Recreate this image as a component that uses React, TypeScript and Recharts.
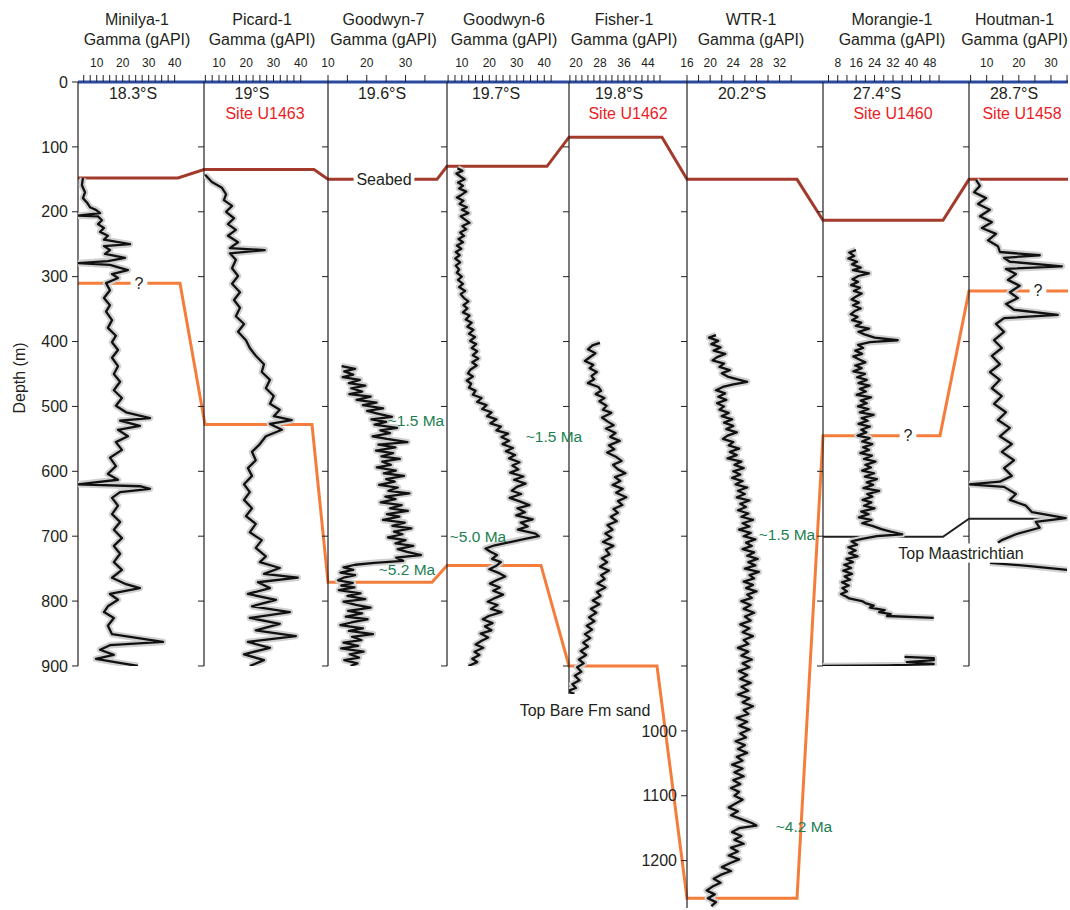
import { Scatter, ScatterChart, XAxis, YAxis } from 'recharts'

const FONT = 'Arial, "Liberation Sans", Helvetica, sans-serif'
const INK = '#231f20'
const BLUE = '#2a4a9f'
const BROWN = '#a23b2c'
const ORANGE = '#f47d3c'
const GREEN = '#1a8050'
const RED = '#ec1c24'

const TOP = 82 // y of 0 m
const MAX_DEPTH = 1273
const PX_PER_M = 826 / MAX_DEPTH

type Pair = [number, number] // [depth m, gamma gAPI]

// gamma logs
const MINILYA_1: Pair[] = [
  [148, 4.7], [159, 4.3], [170, 5.5], [179, 4.7], [186, 6.3], [193, 7.4], [197, 9.7], [202, 11.3],
  [206, 2.8], [207, 10.5], [213, 12.0], [219, 10.5], [225, 12.8], [231, 11.3], [237, 14.3], [243, 12.8],
  [250, 22.8], [253, 12.8], [259, 15.1], [265, 13.2], [271, 20.9], [276, 14.3], [279, 2.8], [282, 15.1],
  [290, 22.0], [296, 15.9], [302, 18.2], [310, 13.6], [321, 15.1], [333, 12.8], [344, 15.1], [354, 13.6],
  [367, 15.9], [379, 14.3], [391, 17.4], [401, 15.9], [413, 18.2], [425, 15.9], [438, 18.2], [450, 16.6],
  [462, 19.0], [475, 16.6], [487, 19.7], [499, 17.4], [509, 21.3], [518, 30.5], [522, 19.0], [530, 26.6],
  [536, 18.2], [546, 22.0], [555, 17.4], [567, 19.7], [579, 15.1], [592, 17.4], [604, 14.3], [613, 18.2],
  [620, 2.8], [623, 26.6], [627, 30.5], [632, 19.0], [641, 15.9], [653, 18.2], [666, 15.9], [678, 19.0],
  [690, 16.6], [703, 19.7], [715, 16.6], [727, 19.0], [740, 16.6], [752, 19.7], [764, 15.9], [774, 21.3],
  [780, 26.6], [789, 15.1], [798, 18.2], [808, 14.3], [817, 12.8], [826, 16.6], [838, 14.3], [851, 15.9],
  [863, 35.5], [868, 15.1], [875, 11.3], [883, 16.6], [889, 9.7], [895, 18.2], [900, 25.9],
]

const PICARD_1: Pair[] = [
  [143, 4.9], [154, 7.4], [163, 11.1], [173, 12.6], [182, 11.8], [191, 14.8], [200, 12.6], [210, 15.5],
  [219, 13.3], [228, 16.2], [237, 13.3], [247, 17.0], [256, 14.0], [259, 26.8], [264, 14.0], [274, 16.2],
  [287, 14.8], [299, 17.0], [311, 14.8], [324, 17.7], [336, 15.5], [348, 17.7], [361, 16.2], [373, 19.2],
  [385, 17.0], [398, 19.9], [410, 21.3], [422, 23.5], [435, 26.5], [447, 25.7], [459, 28.7], [472, 27.2],
  [484, 30.1], [496, 28.7], [505, 32.3], [515, 30.1], [521, 36.7], [527, 28.7], [536, 33.1], [546, 27.2],
  [558, 25.0], [570, 22.1], [583, 23.5], [595, 20.6], [607, 22.1], [620, 19.2], [632, 21.3], [644, 19.2],
  [657, 22.1], [669, 19.9], [681, 23.5], [694, 21.3], [706, 25.7], [718, 23.5], [731, 27.2], [740, 25.0],
  [749, 32.3], [758, 26.5], [764, 38.9], [771, 24.3], [780, 28.7], [789, 20.6], [798, 30.9], [808, 22.1],
  [817, 36.0], [826, 21.3], [835, 32.3], [845, 23.5], [854, 38.2], [863, 20.6], [872, 28.7], [882, 19.2],
  [891, 26.5], [900, 21.3],
]

const GOODWYN_7: Pair[] = [
  [438, 13.5], [442, 17.0], [446, 14.2], [451, 16.5], [455, 13.8], [459, 18.2], [464, 15.4], [468, 19.6],
  [472, 16.0], [477, 18.8], [481, 15.5], [485, 21.0], [490, 17.4], [494, 22.5], [498, 19.0], [503, 24.2],
  [507, 20.1], [511, 22.8], [516, 26.5], [520, 21.2], [524, 25.0], [528, 22.0], [533, 27.8], [537, 23.5],
  [541, 26.0], [546, 21.5], [550, 25.2], [555, 30.5], [559, 23.0], [563, 27.4], [568, 22.4], [572, 26.8],
  [577, 23.8], [581, 28.5], [585, 24.0], [590, 26.2], [594, 22.6], [599, 27.5], [603, 24.4], [607, 29.6],
  [612, 25.0], [616, 27.2], [621, 23.2], [625, 28.0], [630, 25.6], [634, 31.0], [639, 24.8], [643, 27.4],
  [648, 23.6], [652, 29.0], [657, 26.0], [661, 30.6], [666, 25.2], [670, 28.4], [675, 24.2], [679, 29.8],
  [684, 26.6], [688, 31.5], [693, 27.0], [697, 29.2], [702, 25.5], [706, 30.0], [711, 27.4], [715, 32.0],
  [720, 28.0], [724, 30.4], [729, 34.0], [733, 27.6], [738, 29.4], [741, 22.0], [744, 17.0], [748, 14.0],
  [752, 16.5], [756, 13.2], [760, 17.0], [764, 14.0], [768, 12.6], [772, 16.4], [776, 13.4], [779, 16.8],
  [783, 12.8], [788, 18.4], [792, 15.0], [797, 19.6], [801, 14.0], [806, 17.2], [810, 21.0], [815, 15.2],
  [819, 18.8], [824, 14.6], [828, 20.2], [833, 16.0], [837, 13.2], [842, 19.0], [846, 15.4], [851, 21.6],
  [855, 16.2], [860, 18.6], [864, 14.0], [869, 17.8], [873, 13.4], [878, 19.2], [882, 15.6], [887, 18.0],
  [891, 14.2], [896, 17.6], [900, 15.8],
]

const GOODWYN_6: Pair[] = [
  [133, 8.4], [137, 10.2], [141, 8.0], [146, 9.6], [150, 11.0], [155, 8.6], [160, 10.4], [164, 9.0],
  [169, 11.6], [174, 9.8], [178, 8.2], [183, 10.6], [188, 9.2], [193, 11.8], [197, 10.0], [202, 12.4],
  [207, 9.6], [212, 11.2], [217, 12.8], [222, 10.2], [227, 11.6], [232, 9.4], [237, 10.8], [242, 8.8],
  [247, 10.4], [252, 8.2], [257, 9.8], [262, 7.8], [267, 9.2], [272, 7.6], [278, 9.4], [283, 7.8],
  [289, 9.0], [294, 8.2], [300, 10.0], [305, 8.6], [311, 10.4], [316, 9.0], [322, 11.2], [327, 9.6],
  [333, 10.8], [338, 12.4], [344, 10.6], [349, 12.0], [355, 10.4], [360, 12.8], [366, 11.4], [371, 13.6],
  [377, 12.0], [382, 14.2], [388, 12.6], [393, 14.8], [399, 13.0], [404, 15.2], [410, 13.6], [415, 15.6],
  [421, 14.0], [426, 16.0], [432, 13.8], [437, 15.4], [443, 13.2], [449, 12.2], [454, 14.0], [460, 11.8],
  [465, 13.4], [471, 12.6], [476, 15.0], [482, 14.0], [487, 17.2], [493, 15.6], [498, 19.0], [504, 17.4],
  [509, 20.8], [515, 19.2], [520, 22.6], [526, 20.4], [531, 24.2], [537, 22.6], [542, 26.8], [547, 24.4],
  [553, 27.2], [558, 24.8], [564, 28.6], [569, 26.0], [575, 29.4], [580, 27.2], [586, 31.0], [591, 28.4],
  [597, 30.6], [602, 27.6], [608, 32.4], [613, 29.0], [619, 33.2], [624, 30.0], [630, 28.2], [635, 31.6],
  [641, 27.4], [646, 30.8], [652, 34.6], [657, 30.2], [663, 33.0], [668, 29.8], [674, 35.8], [679, 31.4],
  [685, 34.0], [690, 30.4], [696, 36.8], [700, 38.0], [704, 33.0], [709, 27.6], [714, 22.0], [719, 18.6],
  [724, 20.4], [729, 22.8], [735, 21.0], [740, 24.2], [746, 22.4], [751, 20.0], [757, 23.6], [762, 25.8],
  [768, 22.6], [773, 20.2], [779, 23.8], [784, 21.4], [790, 25.0], [795, 22.2], [801, 19.4], [806, 23.0],
  [812, 20.6], [817, 24.4], [823, 19.8], [828, 17.6], [834, 21.2], [839, 18.4], [845, 20.8], [850, 16.8],
  [856, 19.6], [861, 17.2], [867, 15.0], [872, 17.8], [878, 14.6], [883, 16.4], [889, 13.8], [894, 15.6],
  [900, 12.4],
]

const FISHER_1: Pair[] = [
  [402, 28.0], [406, 25.5], [412, 24.0], [418, 26.5], [423, 25.0], [430, 23.0], [436, 25.8], [441, 24.6],
  [447, 27.0], [453, 25.2], [458, 26.1], [464, 24.0], [470, 27.5], [476, 28.4], [481, 26.6], [487, 29.5],
  [492, 27.8], [499, 30.2], [505, 29.0], [510, 31.8], [517, 28.7], [523, 30.5], [529, 32.6], [534, 30.0],
  [541, 33.2], [547, 31.4], [553, 34.6], [560, 31.0], [566, 32.8], [571, 30.4], [578, 33.5], [584, 35.2],
  [590, 32.4], [597, 34.0], [603, 36.5], [609, 33.0], [615, 34.8], [621, 32.2], [627, 35.6], [633, 33.4],
  [640, 36.8], [646, 34.0], [652, 35.5], [658, 32.5], [664, 34.0], [670, 31.6], [677, 33.6], [683, 30.5],
  [690, 32.2], [696, 29.8], [702, 31.8], [709, 29.0], [715, 32.5], [721, 30.0], [728, 31.2], [734, 28.6],
  [740, 30.4], [747, 28.0], [753, 31.0], [760, 28.4], [766, 29.6], [773, 27.2], [779, 29.8], [786, 27.0],
  [792, 28.2], [799, 25.6], [805, 27.8], [812, 25.0], [818, 26.8], [825, 24.4], [831, 26.2], [838, 23.6],
  [844, 25.4], [851, 23.0], [857, 24.8], [864, 22.4], [870, 24.0], [877, 21.6], [883, 23.4], [890, 21.0],
  [896, 22.6], [902, 20.4], [909, 21.8], [915, 19.6], [922, 21.2], [928, 18.8], [934, 20.0], [939, 17.0],
  [943, 19.5],
]

const WTR_1: Pair[] = [
  [390, 21.0], [394, 19.8], [399, 21.4], [404, 20.2], [409, 21.8], [414, 20.6], [419, 22.6], [424, 21.2],
  [429, 20.4], [434, 22.4], [439, 21.6], [444, 23.4], [449, 22.0], [454, 23.0], [458, 24.6], [462, 26.4],
  [466, 24.0], [470, 22.2], [475, 21.0], [480, 22.6], [485, 21.4], [490, 22.8], [495, 21.2], [500, 22.4],
  [505, 21.6], [510, 23.2], [515, 22.0], [520, 23.8], [525, 22.4], [530, 24.0], [535, 22.8], [540, 24.6],
  [545, 23.0], [550, 22.2], [555, 24.0], [560, 23.2], [565, 25.0], [570, 23.4], [575, 24.6], [580, 23.0],
  [585, 25.4], [590, 24.2], [595, 25.8], [600, 24.0], [605, 25.2], [610, 23.8], [615, 25.6], [620, 24.4],
  [625, 26.4], [630, 24.8], [635, 26.0], [640, 24.6], [645, 26.8], [650, 25.2], [655, 26.2], [660, 24.8],
  [665, 26.6], [670, 25.4], [675, 27.4], [680, 25.6], [685, 26.8], [690, 25.0], [695, 27.0], [700, 25.8],
  [705, 27.8], [710, 26.2], [715, 27.2], [720, 25.6], [725, 27.6], [730, 26.4], [735, 28.2], [740, 26.6],
  [745, 27.8], [750, 26.0], [755, 28.4], [760, 26.8], [765, 27.6], [770, 25.8], [775, 27.4], [780, 26.2],
  [785, 28.0], [790, 26.4], [795, 27.2], [800, 25.4], [806, 27.0], [812, 25.8], [818, 27.6], [824, 26.0],
  [830, 27.0], [836, 25.2], [842, 26.8], [848, 25.6], [854, 27.4], [860, 25.8], [866, 26.6], [872, 24.8],
  [878, 26.6], [884, 25.4], [890, 27.2], [896, 25.6], [902, 26.8], [908, 25.0], [914, 26.4], [920, 25.2],
  [926, 27.0], [932, 25.4], [938, 26.6], [944, 24.8], [950, 26.8], [956, 25.6], [962, 27.4], [968, 25.8],
  [974, 26.6], [980, 24.6], [986, 26.4], [992, 25.0], [998, 26.8], [1004, 25.2], [1010, 26.2], [1016, 24.4],
  [1022, 26.0], [1028, 24.8], [1034, 26.4], [1040, 24.6], [1046, 25.6], [1052, 23.8], [1058, 25.6], [1064, 24.2],
  [1070, 25.8], [1076, 24.0], [1082, 25.2], [1088, 23.6], [1094, 25.0], [1100, 24.2], [1106, 25.6], [1112, 24.4],
  [1118, 23.2], [1124, 24.8], [1130, 23.6], [1136, 25.4], [1142, 27.2], [1146, 28.0], [1150, 25.0], [1156, 23.8],
  [1162, 25.4], [1168, 24.2], [1174, 25.8], [1180, 23.6], [1186, 24.8], [1192, 23.2], [1198, 25.0], [1204, 23.4],
  [1210, 22.0], [1216, 23.6], [1222, 21.8], [1228, 20.6], [1234, 21.8], [1240, 20.4], [1246, 19.4], [1252, 20.8],
  [1258, 19.6], [1264, 21.0], [1270, 20.2],
]

const MORANGIE_1: Pair[] = [
  [259, 15.9], [263, 13.0], [268, 15.2], [272, 12.6], [277, 16.4], [281, 14.2], [286, 18.0], [290, 14.6],
  [295, 21.5], [299, 17.0], [304, 14.4], [308, 16.8], [313, 13.8], [317, 17.6], [322, 15.0], [326, 18.4],
  [331, 15.8], [335, 14.0], [340, 17.2], [344, 14.6], [349, 18.0], [353, 15.4], [358, 13.6], [362, 16.6],
  [367, 14.2], [371, 18.2], [376, 15.8], [380, 21.6], [385, 17.0], [389, 19.6], [394, 24.0], [398, 34.0],
  [401, 22.0], [405, 16.8], [410, 19.0], [414, 15.6], [419, 18.6], [423, 14.8], [428, 17.6], [432, 20.0],
  [437, 15.6], [441, 18.4], [446, 14.8], [450, 19.8], [455, 16.4], [459, 20.6], [464, 17.0], [468, 21.8],
  [473, 17.6], [477, 20.2], [482, 16.2], [486, 22.4], [491, 18.0], [495, 20.6], [500, 16.8], [504, 21.4],
  [509, 17.6], [513, 23.6], [518, 18.4], [522, 21.0], [527, 17.0], [531, 22.0], [536, 18.2], [540, 20.4],
  [545, 16.6], [549, 21.8], [554, 18.6], [558, 23.0], [563, 19.0], [567, 21.6], [572, 17.8], [576, 22.8],
  [581, 19.4], [585, 24.4], [590, 20.0], [594, 22.4], [599, 18.6], [603, 23.8], [608, 19.8], [612, 25.0],
  [617, 20.6], [621, 23.4], [626, 19.2], [630, 26.0], [635, 20.8], [639, 23.0], [644, 18.8], [648, 22.6],
  [653, 19.4], [657, 24.0], [662, 18.2], [666, 21.4], [671, 17.2], [675, 22.6], [680, 18.6], [684, 23.0],
  [689, 27.0], [693, 31.0], [697, 36.0], [700, 25.0], [704, 18.6], [708, 14.0], [713, 16.4], [717, 12.6],
  [722, 15.8], [726, 13.0], [731, 16.6], [735, 11.8], [740, 14.6], [744, 10.8], [749, 13.8], [753, 10.4],
  [758, 14.2], [762, 11.0], [767, 13.4], [771, 9.8], [776, 12.8], [780, 10.0], [785, 12.0], [789, 9.4],
  [793, 11.6], [796, 13.0], [800, 18.5], [803, 20.0], [807, 23.6], [810, 22.0], [814, 28.4], [817, 26.0],
  [820, 31.0], [823, 29.4], [826, 49.7],
]
const MORANGIE_1_DEEP: Pair[] = [
  [886, 37.0], [888, 49.7], [891, 49.7], [894, 38.0], [897, 49.7], [899, 30.0], [900, 1.6],
]

const HOUTMAN_1: Pair[] = [
  [151, 6.7], [160, 7.9], [170, 6.1], [179, 9.8], [188, 7.3], [197, 11.0], [207, 7.9], [216, 11.6],
  [225, 8.5], [234, 12.9], [244, 10.4], [253, 13.5], [262, 14.1], [267, 26.5], [271, 15.4], [277, 17.2],
  [284, 33.4], [288, 16.0], [296, 19.1], [305, 16.6], [314, 20.3], [324, 17.2], [333, 19.7], [342, 16.0],
  [351, 18.5], [359, 32.1], [364, 15.4], [373, 12.9], [385, 15.4], [398, 12.3], [410, 14.7], [422, 11.6],
  [435, 14.1], [447, 11.0], [459, 14.1], [472, 11.6], [484, 14.7], [496, 12.3], [509, 16.0], [521, 13.5],
  [533, 17.2], [546, 14.1], [558, 17.8], [570, 14.7], [583, 18.5], [595, 15.4], [607, 17.8], [616, 14.1],
  [620, 4.5], [624, 15.4], [635, 19.1], [644, 17.2], [653, 22.2], [663, 24.1], [672, 34.6], [678, 25.3],
  [687, 26.5], [697, 19.1], [706, 14.7], [710, 13.5],
]
const HOUTMAN_1_DEEP: Pair[] = [[741, 11.0], [746, 23.4], [752, 35.0]]

// correlation horizons: [position along section (px), depth m]
const SEABED: Pair[] = [
  [78, 148], [178, 148], [204, 135], [314, 135], [328, 150], [437, 150], [447, 130], [547, 130],
  [569, 85], [662, 85], [687, 150], [797, 150], [823, 213], [943, 213], [969, 150], [1068, 150],
]
const ORANGE_HORIZON: Pair[] = [
  [78, 310], [180, 310], [205, 528], [312, 528], [328, 771], [432, 771], [447, 745], [541, 745],
  [569, 900], [657, 900], [687, 1258], [797, 1258], [823, 545], [940, 545], [969, 322], [1068, 322],
]
const TOP_MAASTRICHTIAN: Pair[] = [[823, 701], [943, 701], [969, 673], [1068, 673]]

type Note = { text: string; x: number; d: number; color?: string; size?: number; bg?: boolean }
const NOTES: Note[] = [
  { text: 'Seabed', x: 384, d: 150, bg: true },
  { text: '?', x: 139, d: 310, bg: true },
  { text: '?', x: 908, d: 545, bg: true },
  { text: '?', x: 1038, d: 322, bg: true },
  { text: '~1.5 Ma', x: 416, d: 521, color: GREEN, size: 15.5 },
  { text: '~1.5 Ma', x: 554, d: 547, color: GREEN, size: 15.5 },
  { text: '~5.0 Ma', x: 478, d: 700, color: GREEN, size: 15.5 },
  { text: '~5.2 Ma', x: 407, d: 752, color: GREEN, size: 15.5 },
  { text: '~1.5 Ma', x: 787, d: 698, color: GREEN, size: 15.5 },
  { text: '~4.2 Ma', x: 804, d: 1148, color: GREEN, size: 15.5 },
  { text: 'Top Bare Fm sand', x: 585, d: 969, bg: true },
  { text: 'Top Maastrichtian', x: 961, d: 726, bg: true },
]

const DEPTH_TICKS = [0, 100, 200, 300, 400, 500, 600, 700, 800, 900]
const DEEP_TICKS = [100, 200, 300, 400, 500, 600, 700, 800, 900, 1000, 1100, 1200]

type Well = {
  name: string
  lat: string
  latX: number
  site?: string
  siteX?: number
  left: number
  right: number
  domain: [number, number]
  ticks: number[]
  labels: number[]
  bottom: number
  axisWidth: number
  depthTicks: number[]
  depthLabels: number[]
  logs: Pair[][]
}

const WELLS: Well[] = [
  {
    name: 'Minilya-1', lat: '18.3°S', latX: 133, left: 78, right: 204, domain: [2.8, 51.3],
    ticks: [5, 7.5, 10, 12.5, 15, 17.5, 20, 22.5, 25, 27.5, 30, 32.5, 35, 37.5, 40], labels: [10, 20, 30, 40],
    bottom: 900, axisWidth: 78, depthTicks: DEPTH_TICKS, depthLabels: DEPTH_TICKS, logs: [MINILYA_1],
  },
  {
    name: 'Picard-1', lat: '19°S', latX: 252, site: 'Site U1463', siteX: 265, left: 204, right: 328,
    domain: [4.5, 50], ticks: [5, 7.5, 10, 12.5, 15, 17.5, 20, 22.5, 25, 27.5, 30, 32.5, 35, 37.5, 40],
    labels: [10, 20, 30, 40], bottom: 900, axisWidth: 10, depthTicks: DEPTH_TICKS.slice(1), depthLabels: [],
    logs: [PICARD_1],
  },
  {
    name: 'Goodwyn-7', lat: '19.6°S', latX: 382, left: 328, right: 447, domain: [10, 40.7],
    ticks: [10, 15, 20, 25, 30, 35], labels: [10, 20, 30], bottom: 900, axisWidth: 10,
    depthTicks: DEPTH_TICKS.slice(1), depthLabels: [], logs: [GOODWYN_7],
  },
  {
    name: 'Goodwyn-6', lat: '19.7°S', latX: 496, left: 447, right: 569, domain: [4.6, 49],
    ticks: [5, 7.5, 10, 12.5, 15, 17.5, 20, 22.5, 25, 27.5, 30, 32.5, 35, 37.5, 40, 42.5], labels: [10, 20, 30, 40],
    bottom: 900, axisWidth: 10, depthTicks: DEPTH_TICKS.slice(1), depthLabels: [], logs: [GOODWYN_6],
  },
  {
    name: 'Fisher-1', lat: '19.8°S', latX: 619, site: 'Site U1462', siteX: 628, left: 569, right: 687,
    domain: [17.7, 57], ticks: [18, 20, 22, 24, 26, 28, 30, 32, 34, 36, 38, 40, 42, 44, 46, 48],
    labels: [20, 28, 36, 44], bottom: 943, axisWidth: 10, depthTicks: DEPTH_TICKS.slice(1), depthLabels: [],
    logs: [FISHER_1],
  },
  {
    name: 'WTR-1', lat: '20.2°S', latX: 742, left: 687, right: 823, domain: [16, 39.5],
    ticks: [16, 18, 20, 22, 24, 26, 28, 30, 32, 34], labels: [16, 20, 24, 28, 32], bottom: MAX_DEPTH,
    axisWidth: 50, depthTicks: DEEP_TICKS, depthLabels: [1000, 1100, 1200], logs: [WTR_1],
  },
  {
    name: 'Morangie-1', lat: '27.4°S', latX: 877, site: 'Site U1460', siteX: 893, left: 823, right: 969,
    domain: [1.6, 65], ticks: [4, 8, 12, 16, 20, 24, 28, 32, 36, 40, 44, 48, 52], labels: [8, 16, 24, 32, 40, 48],
    bottom: 900, axisWidth: 10, depthTicks: DEPTH_TICKS.slice(1), depthLabels: [],
    logs: [MORANGIE_1, MORANGIE_1_DEEP],
  },
  {
    name: 'Houtman-1', lat: '28.7°S', latX: 1014, site: 'Site U1458', siteX: 1022, left: 969, right: 1068,
    domain: [4.5, 35.3], ticks: [5, 10, 15, 20, 25, 30, 35], labels: [10, 20, 30], bottom: 900, axisWidth: 10,
    depthTicks: DEPTH_TICKS.slice(1), depthLabels: [], logs: [HOUTMAN_1, HOUTMAN_1_DEEP],
  },
]

const noShape = () => <g />

function toLog(seg: Pair[]) {
  return seg.map(([d, g]) => ({ d, g }))
}

function toLine(seg: Pair[]) {
  return seg.map(([x, d]) => ({ x, d }))
}

function WellPanel({ well }: { well: Well }) {
  const width = well.right - well.left + well.axisWidth
  const height = TOP + well.bottom * PX_PER_M + 12
  return (
    <div style={{ position: 'absolute', left: well.left - well.axisWidth, top: 0 }}>
      <ScatterChart width={width} height={height} margin={{ top: TOP - 20, right: 0, bottom: 12, left: 0 }}>
        <XAxis
          type="number"
          dataKey="g"
          orientation="top"
          height={20}
          domain={well.domain}
          allowDataOverflow
          ticks={well.ticks}
          interval={0}
          tickFormatter={(v) => (well.labels.includes(v) ? String(v) : '')}
          tick={{ fontSize: 12, fill: INK, fontFamily: FONT }}
          tickSize={7}
          tickMargin={8}
          tickLine={{ stroke: INK }}
          axisLine={{ stroke: BLUE, strokeWidth: 3 }}
        />
        <YAxis
          type="number"
          dataKey="d"
          reversed
          domain={[0, well.bottom]}
          allowDataOverflow
          width={well.axisWidth}
          ticks={well.depthTicks}
          interval={0}
          tickFormatter={(v) => (well.depthLabels.includes(v) ? String(v) : '')}
          tick={{ fontSize: 16, fill: INK, fontFamily: FONT }}
          tickSize={6}
          tickMargin={4}
          tickLine={{ stroke: INK }}
          axisLine={{ stroke: INK, strokeWidth: 1.2 }}
        />
        {well.logs.map((seg, i) => (
          <Scatter
            key={'raw' + i}
            data={toLog(seg)}
            line={{ stroke: '#d0d0d0', strokeWidth: 6.5, strokeLinejoin: 'round' }}
            shape={noShape}
            isAnimationActive={false}
          />
        ))}
        {well.logs.map((seg, i) => (
          <Scatter
            key={'log' + i}
            data={toLog(seg)}
            line={{ stroke: '#111', strokeWidth: 2.3, strokeLinejoin: 'round' }}
            shape={noShape}
            isAnimationActive={false}
          />
        ))}
      </ScatterChart>
    </div>
  )
}

function SectionFrame({ children }: { children: React.ReactNode }) {
  return (
    <div style={{ position: 'absolute', left: 0, top: 0 }}>
      <ScatterChart width={1070} height={910} margin={{ top: TOP, right: 0, bottom: 910 - TOP - 826, left: 0 }}>
        <XAxis type="number" dataKey="x" domain={[0, 1070]} hide />
        <YAxis type="number" dataKey="d" domain={[0, MAX_DEPTH]} reversed hide />
        {children}
      </ScatterChart>
    </div>
  )
}

function NoteTag(props: any) {
  const { cx, cy, payload } = props
  const note: Note = payload.note
  const size = note.size ?? 16
  const w = note.text.length * size * 0.55 + 8
  return (
    <g>
      {note.bg && <rect x={cx - w / 2} y={cy - size * 0.6} width={w} height={size * 1.2} fill="#fff" />}
      <text
        x={cx}
        y={cy}
        textAnchor="middle"
        dominantBaseline="central"
        fontSize={size}
        fontFamily={FONT}
        fill={note.color ?? INK}
      >
        {note.text}
      </text>
    </g>
  )
}

export default function App() {
  return (
    <div style={{ position: 'absolute', left: 0, top: 0, width: 1070, height: 910, background: '#fff', fontFamily: FONT, color: INK }}>
      <SectionFrame>
        <Scatter data={toLine(SEABED)} line={{ stroke: BROWN, strokeWidth: 3 }} shape={noShape} isAnimationActive={false} />
        <Scatter data={toLine(ORANGE_HORIZON)} line={{ stroke: ORANGE, strokeWidth: 3 }} shape={noShape} isAnimationActive={false} />
        <Scatter data={toLine(TOP_MAASTRICHTIAN)} line={{ stroke: INK, strokeWidth: 2 }} shape={noShape} isAnimationActive={false} />
      </SectionFrame>

      {WELLS.map((w) => (
        <WellPanel key={w.name} well={w} />
      ))}

      <SectionFrame>
        <Scatter
          data={NOTES.map((n) => ({ x: n.x, d: n.d, note: n }))}
          shape={(p: any) => <NoteTag {...p} />}
          isAnimationActive={false}
        />
      </SectionFrame>

      {WELLS.map((w) => {
        const cx = (w.left + w.right) / 2 - 4
        return (
          <div key={w.name + 'h'}>
            <div style={{ position: 'absolute', left: cx - 70, width: 140, top: 10, textAlign: 'center', fontSize: 16, lineHeight: '20px' }}>
              {w.name}
              <br />
              Gamma (gAPI)
            </div>
            <div style={{ position: 'absolute', left: w.latX - 50, width: 100, top: 85, textAlign: 'center', fontSize: 16 }}>
              {w.lat}
            </div>
            {w.site && (
              <div style={{ position: 'absolute', left: (w.siteX ?? cx) - 60, width: 120, top: 105, textAlign: 'center', fontSize: 16, color: RED }}>
                {w.site}
              </div>
            )}
          </div>
        )
      })}

      <div style={{ position: 'absolute', left: 20, top: 378, transform: 'translate(-50%, -50%) rotate(-90deg)', fontSize: 16, whiteSpace: 'nowrap' }}>
        Depth (m)
      </div>
    </div>
  )
}
